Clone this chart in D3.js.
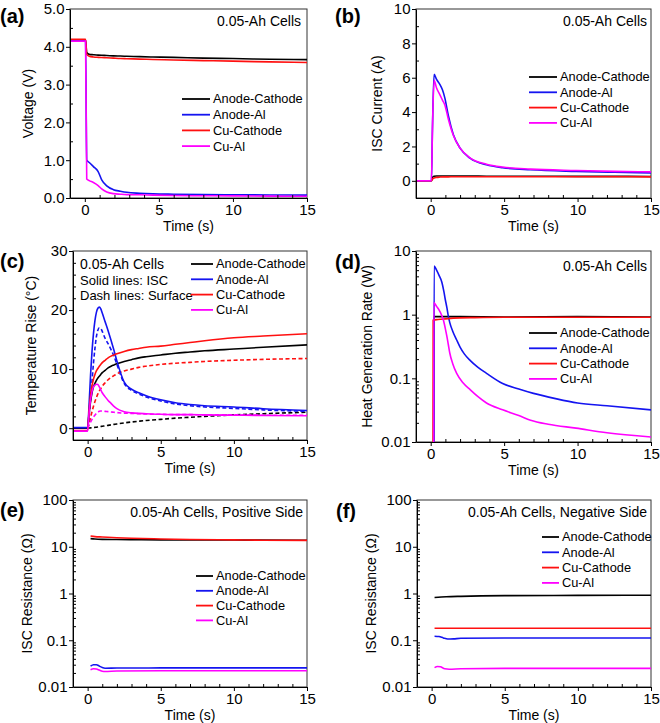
<!DOCTYPE html>
<html><head><meta charset="utf-8">
<script src="https://cdn.jsdelivr.net/npm/d3@7"></script>
<style>body{margin:0;background:#fff}svg{font-family:"Liberation Sans",Arial,sans-serif}</style>
</head><body><svg id="c" width="660" height="723"></svg>
<script>
// ---------- shared ----------
const seriesNames = ["Anode-Cathode", "Anode-Al", "Cu-Cathode", "Cu-Al"];
const seriesColors = ["#000000", "#1414f0", "#ff1010", "#ff00ff"];
const xTicks = [0, 5, 10, 15];
const xMinorTicks = [1, 2, 3, 4, 6, 7, 8, 9, 11, 12, 13, 14];

// ---------- (a) Voltage ----------
const tA = [-1, 0.05, 0.13, 0.3, 0.58, 0.9, 1.14, 1.48, 1.93, 2.4, 2.83, 3.7, 4.6, 6, 8, 10, 12.5, 15];
const voltAC = [4.18, 4.18, 3.85, 3.80, 3.79, 3.78, 3.775, 3.77, 3.76, 3.755, 3.75, 3.74, 3.73, 3.72, 3.70, 3.69, 3.67, 3.66];
const voltAAl = [4.15, 4.15, 1.0, 0.94, 0.83, 0.7, 0.48, 0.32, 0.22, 0.18, 0.15, 0.125, 0.11, 0.1, 0.09, 0.085, 0.08, 0.075];
const voltCuC = [4.2, 4.2, 3.8, 3.75, 3.73, 3.72, 3.715, 3.71, 3.70, 3.69, 3.685, 3.675, 3.665, 3.65, 3.635, 3.62, 3.6, 3.585];
const voltCuAl = [4.15, 4.15, 0.5, 0.46, 0.41, 0.33, 0.24, 0.16, 0.115, 0.1, 0.09, 0.085, 0.075, 0.065, 0.06, 0.055, 0.05, 0.045];
const yTicksA = [0, 1, 2, 3, 4, 5];
const yMinorA = [0.5, 1.5, 2.5, 3.5, 4.5];

// ---------- (b) ISC current ----------
const tB = [-1, 0.05, 0.12, 0.23, 0.4, 0.63, 0.8, 0.97, 1.2, 1.54, 2.0, 2.7, 3.8, 4.9, 6.8, 9.9, 12.5, 15];
const curAC = [0, 0, 0.2, 0.27, 0.28, 0.28, 0.28, 0.28, 0.28, 0.28, 0.28, 0.28, 0.27, 0.27, 0.27, 0.26, 0.26, 0.25];
const curAAl = [0, 0, 3, 6.2, 5.9, 5.6, 5.3, 4.8, 3.8, 2.7, 1.9, 1.3, 0.93, 0.76, 0.64, 0.55, 0.5, 0.46];
const curCuC = [0, 0, 0.1, 0.17, 0.2, 0.22, 0.23, 0.23, 0.23, 0.235, 0.235, 0.235, 0.235, 0.235, 0.235, 0.235, 0.235, 0.23];
const curCuAl = [0, 0, 3, 5.85, 5.4, 5.0, 4.7, 4.4, 3.6, 2.65, 1.9, 1.32, 0.97, 0.8, 0.68, 0.6, 0.55, 0.52];
const yTicksB = [0, 2, 4, 6, 8, 10];
const yMinorB = [-1, 1, 3, 5, 7, 9];

// ---------- (c) Temperature rise ----------
const tC = [-1, 0, 0.1, 0.2, 0.3, 0.4, 0.5, 0.6, 0.7, 0.8, 0.9, 1.0, 1.2, 1.4, 1.6, 1.8, 2.0, 2.5, 3, 3.5, 4, 5, 6, 7, 8, 10, 12, 15];
const iscAC = [0, 0, 2.5, 4.5, 6.0, 7.0, 7.6, 8.1, 8.5, 8.8, 9.1, 9.4, 9.8, 10.2, 10.5, 10.7, 10.9, 11.3, 11.6, 11.9, 12.1, 12.4, 12.7, 12.9, 13.1, 13.4, 13.7, 14.1];
const iscAAl = [0.1, 0.1, 4, 9, 13, 16, 18.2, 19.6, 20.3, 20.5, 20.2, 19.5, 18.0, 16.5, 14.9, 13.2, 11.4, 7.8, 6.6, 6.0, 5.5, 4.8, 4.3, 4.0, 3.8, 3.6, 3.3, 3.0];
const iscCuC = [-0.4, -0.4, 3, 5.5, 7.2, 8.3, 9.1, 9.7, 10.1, 10.5, 10.8, 11.1, 11.5, 11.9, 12.2, 12.4, 12.6, 13.0, 13.3, 13.5, 13.7, 13.9, 14.2, 14.5, 14.8, 15.3, 15.6, 16.0];
const iscCuAl = [-0.5, -0.5, 2.5, 4.8, 6.2, 7.0, 7.3, 7.45, 7.4, 7.0, 6.5, 6.0, 5.3, 4.7, 4.2, 3.7, 3.3, 2.8, 2.6, 2.5, 2.45, 2.35, 2.3, 2.3, 2.25, 2.2, 2.15, 2.1];
const tCs = [0, 0.1, 0.2, 0.3, 0.4, 0.5, 0.6, 0.7, 0.8, 0.9, 1.0, 1.2, 1.4, 1.6, 1.8, 2.0, 2.5, 3, 3.5, 4, 5, 6, 7, 8, 10, 12, 15];
const surfAC = [0, 0.02, 0.05, 0.08, 0.11, 0.14, 0.17, 0.21, 0.25, 0.29, 0.33, 0.4, 0.48, 0.56, 0.64, 0.72, 0.9, 1.05, 1.18, 1.3, 1.5, 1.7, 1.85, 2.0, 2.25, 2.45, 2.7];
const surfAAl = [0, 2, 5, 8, 11, 13.5, 15.5, 16.6, 17.0, 16.9, 16.4, 15.2, 14.3, 13.3, 12.2, 10.8, 7.6, 6.4, 5.8, 5.3, 4.6, 4.1, 3.8, 3.6, 3.35, 3.1, 2.85];
const surfCuC = [0, 0.8, 1.8, 2.8, 3.7, 4.5, 5.2, 5.8, 6.3, 6.7, 7.1, 7.7, 8.2, 8.6, 8.9, 9.2, 9.7, 10.0, 10.3, 10.5, 10.8, 11.0, 11.15, 11.3, 11.5, 11.65, 11.8];
const surfCuAl = [0, 0.5, 1.0, 1.5, 1.9, 2.2, 2.5, 2.7, 2.85, 2.9, 2.9, 2.85, 2.8, 2.75, 2.7, 2.65, 2.55, 2.5, 2.45, 2.4, 2.35, 2.3, 2.3, 2.25, 2.25, 2.2, 2.2];
const yTicksC = [0, 10, 20, 30];
const yMinorC = [-2, 2, 4, 6, 8, 12, 14, 16, 18, 22, 24, 26, 28];

// ---------- (d) Heat generation rate ----------
const tD_AC = [0.2, 0.21, 2, 5, 10, 15];
const heatAC = [0.003, 0.93, 0.93, 0.92, 0.93, 0.92];
const tD_AAl = [0.22, 0.23, 0.4, 0.6, 0.75, 0.9, 1.0, 1.1, 1.2, 1.3, 1.5, 1.77, 2.0, 2.3, 2.7, 3.2, 3.8, 4.9, 6, 7, 8.5, 10, 12, 15];
const heatAAl = [0.003, 5.8, 5.0, 4.0, 3.3, 2.3, 1.7, 1.3, 0.95, 0.75, 0.55, 0.4, 0.31, 0.24, 0.19, 0.15, 0.12, 0.083, 0.068, 0.058, 0.048, 0.041, 0.037, 0.032];
const tD_CuC = [0.16, 0.17, 0.5, 1, 2, 3, 5, 10, 15];
const heatCuC = [0.003, 0.82, 0.84, 0.86, 0.89, 0.9, 0.91, 0.91, 0.91];
const tD_CuAl = [0.2, 0.21, 0.4, 0.63, 0.86, 1.0, 1.1, 1.2, 1.3, 1.5, 1.77, 2.2, 2.7, 3.2, 3.8, 4.9, 6, 6.8, 8, 9.9, 12, 15];
const heatCuAl = [0.003, 1.55, 1.35, 1.12, 0.83, 0.6, 0.46, 0.34, 0.25, 0.17, 0.12, 0.085, 0.066, 0.052, 0.041, 0.032, 0.026, 0.022, 0.019, 0.0165, 0.014, 0.012];
const yTicksD = [0.01, 0.1, 1, 10];
const yTickLabelsD = ["0.01", "0.1", "1", "10"];

// ---------- (e) ISC resistance, positive side ----------
const tE_AC = [0.2, 0.5, 1, 2, 3, 5, 10, 15];
const resPosAC = [14.9, 14.6, 14.4, 14.3, 14.2, 14.0, 13.9, 13.8];
const tE_AAl = [0.2, 0.4, 0.6, 0.8, 1.0, 1.2, 2, 5, 10, 15];
const resPosAAl = [0.028, 0.030, 0.030, 0.028, 0.026, 0.0252, 0.0255, 0.0256, 0.0257, 0.0257];
const tE_CuC = [0.2, 0.5, 1, 2, 3, 5, 7, 10, 12, 15];
const resPosCuC = [17, 16.5, 16.2, 15.6, 15.2, 14.7, 14.3, 14.0, 13.8, 13.7];
const tE_CuAl = [0.2, 0.4, 0.6, 0.8, 1.0, 1.2, 2, 5, 10, 15];
const resPosCuAl = [0.0235, 0.0245, 0.0243, 0.023, 0.0218, 0.0215, 0.022, 0.0222, 0.0222, 0.0222];

// ---------- (f) ISC resistance, negative side ----------
const tF_AC = [0.2, 1, 2, 5, 10, 15];
const resNegAC = [0.82, 0.85, 0.87, 0.9, 0.91, 0.92];
const tF_AAl = [0.2, 0.5, 0.8, 1.1, 1.5, 2, 5, 10, 15];
const resNegAAl = [0.122, 0.12, 0.112, 0.106, 0.107, 0.11, 0.112, 0.112, 0.112];
const tF_CuC = [0.2, 1, 5, 10, 15];
const resNegCuC = [0.18, 0.18, 0.18, 0.18, 0.18];
const tF_CuAl = [0.2, 0.4, 0.6, 0.9, 1.2, 2, 5, 15];
const resNegCuAl = [0.026, 0.0275, 0.027, 0.0245, 0.024, 0.0245, 0.025, 0.025];
const yTicksEF = [0.01, 0.1, 1, 10, 100];
const yTickLabelsEF = ["0.01", "0.1", "1", "10", "100"];

// ---------- drawing ----------
const svg = d3.select("#c");
const logMinor = (lo, hi) => { const r = []; for (let e = lo; e < hi; e++) for (let k = 2; k <= 9; k++) r.push(k * Math.pow(10, e)); return r; };
const zip = (t, v) => t.map((d, i) => [d, v[i]]);
let clipId = 0;

function panel(c) {
  const g = svg.append("g");
  const x = d3.scaleLinear().domain([-1, 15]).range([c.L, c.R]);
  const y = (c.log ? d3.scaleLog() : d3.scaleLinear()).domain(c.yDomain).range([c.B, c.T]);
  const id = "clip" + (clipId++);
  g.append("clipPath").attr("id", id).append("rect").attr("x", c.L).attr("y", c.T).attr("width", c.R - c.L).attr("height", c.B - c.T);

  g.append("rect").attr("x", c.L).attr("y", c.T).attr("width", c.R - c.L).attr("height", c.B - c.T)
    .attr("fill", "none").attr("stroke", "#333").attr("stroke-width", 1);

  const line = d3.line().x(d => x(d[0])).y(d => y(d[1])).curve(d3.curveMonotoneX);
  const lg = g.append("g").attr("clip-path", `url(#${id})`);
  c.series.forEach(s => {
    lg.append("path").attr("d", line(zip(s.t, s.v))).attr("fill", "none")
      .attr("stroke", s.color).attr("stroke-width", 1.6)
      .attr("stroke-dasharray", s.dash ? "4,2.5" : null);
  });

  g.append("g").attr("transform", `translate(0,${c.B})`)
    .call(d3.axisBottom(x).tickValues(xTicks).tickSize(4).tickPadding(2).tickSizeOuter(0));
  g.append("g").attr("transform", `translate(0,${c.B})`)
    .call(d3.axisBottom(x).tickValues(xMinorTicks).tickSize(-3).tickFormat("").tickSizeOuter(0))
    .select(".domain").remove();
  const yAxis = d3.axisLeft(y).tickValues(c.yTicks).tickSize(4).tickPadding(1.5).tickSizeOuter(0)
    .tickFormat((d, i) => c.yLabels[i]);
  g.append("g").attr("transform", `translate(${c.L},0)`).call(yAxis);
  g.append("g").attr("transform", `translate(${c.L},0)`)
    .call(d3.axisLeft(y).tickValues(c.yMinor).tickSize(-3).tickFormat("").tickSizeOuter(0))
    .select(".domain").remove();
  g.selectAll(".tick text").attr("font-size", 15).attr("fill", "#000").style("font-family", "'Liberation Sans',Arial,sans-serif");
  g.selectAll(".domain, .tick line").attr("stroke", "#000");

  g.append("text").attr("x", (c.L + c.R) / 2).attr("y", c.B + 33).attr("text-anchor", "middle")
    .attr("font-size", 14).text("Time (s)");
  g.append("text").attr("transform", `translate(${c.yTitleX},${(c.T + c.B) / 2}) rotate(-90)`)
    .attr("text-anchor", "middle").attr("font-size", 14).text(c.yTitle);

  g.append("text").attr("x", c.labelX).attr("y", c.labelY).attr("font-size", 20).attr("font-weight", "bold").text(c.label);

  c.notes.forEach(n => {
    g.append("text").attr("x", n.x).attr("y", n.y).attr("text-anchor", n.anchor).attr("font-size", n.size).text(n.text);
  });

  seriesNames.forEach((name, i) => {
    const yy = c.legY + i * c.legDy;
    g.append("line").attr("x1", c.legX).attr("x2", c.legX + c.legLen).attr("y1", yy).attr("y2", yy)
      .attr("stroke", seriesColors[i]).attr("stroke-width", 1.8);
    g.append("text").attr("x", c.legX + c.legLen + 3).attr("y", yy).attr("dy", "0.35em")
      .attr("font-size", 12.8).text(name);
  });
}

const S = (t, v, i, dash) => ({ t, v, color: seriesColors[i], dash });

panel({
  L: 70, R: 307, T: 9, B: 198, yDomain: [0, 5], yTicks: yTicksA, yLabels: yTicksA.map(d => d.toFixed(1)), yMinor: yMinorA,
  yTitle: "Voltage (V)", yTitleX: 33, label: "(a)", labelX: 0, labelY: 23,
  series: [S(tA, voltAC, 0), S(tA, voltAAl, 1), S(tA, voltCuC, 2), S(tA, voltCuAl, 3)],
  notes: [{ x: 301, y: 26, anchor: "end", size: 14, text: "0.05-Ah Cells" }],
  legX: 182, legY: 99, legDy: 15.7, legLen: 28
});
panel({
  L: 416, R: 651, T: 9, B: 198, yDomain: [-1, 10], yTicks: yTicksB, yLabels: yTicksB.map(String), yMinor: yMinorB,
  yTitle: "ISC Current (A)", yTitleX: 382, label: "(b)", labelX: 335, labelY: 23,
  series: [S(tB, curAC, 0), S(tB, curAAl, 1), S(tB, curCuC, 2), S(tB, curCuAl, 3)],
  notes: [{ x: 647, y: 26, anchor: "end", size: 14, text: "0.05-Ah Cells" }],
  legX: 529, legY: 77, legDy: 15.3, legLen: 28
});
panel({
  L: 73, R: 307, T: 251, B: 440, yDomain: [-2, 30], yTicks: yTicksC, yLabels: yTicksC.map(String), yMinor: yMinorC,
  yTitle: "Temperature Rise (°C)", yTitleX: 36, label: "(c)", labelX: 0, labelY: 268,
  series: [S(tCs, surfAC, 0, true), S(tCs, surfAAl, 1, true), S(tCs, surfCuC, 2, true), S(tCs, surfCuAl, 3, true),
           S(tC, iscAC, 0), S(tC, iscAAl, 1), S(tC, iscCuC, 2), S(tC, iscCuAl, 3)],
  notes: [{ x: 80, y: 269, anchor: "start", size: 14, text: "0.05-Ah Cells" },
          { x: 80, y: 285, anchor: "start", size: 13, text: "Solid lines: ISC" },
          { x: 80, y: 300, anchor: "start", size: 13, text: "Dash lines: Surface" }],
  legX: 191, legY: 264, legDy: 15.3, legLen: 22
});
panel({
  L: 416, R: 651, T: 251, B: 442, log: true, yDomain: [0.01, 10], yTicks: yTicksD, yLabels: yTickLabelsD, yMinor: logMinor(-2, 1),
  yTitle: "Heat Generation Rate (W)", yTitleX: 372, label: "(d)", labelX: 335, labelY: 269,
  series: [S(tD_AC, heatAC, 0), S(tD_AAl, heatAAl, 1), S(tD_CuC, heatCuC, 2), S(tD_CuAl, heatCuAl, 3)],
  notes: [{ x: 647, y: 271, anchor: "end", size: 14, text: "0.05-Ah Cells" }],
  legX: 529, legY: 333, legDy: 15.3, legLen: 28
});
panel({
  L: 73, R: 307, T: 500, B: 687, log: true, yDomain: [0.01, 100], yTicks: yTicksEF, yLabels: yTickLabelsEF, yMinor: logMinor(-2, 2),
  yTitle: "ISC Resistance (Ω)", yTitleX: 32, label: "(e)", labelX: 0, labelY: 517,
  series: [S(tE_AC, resPosAC, 0), S(tE_AAl, resPosAAl, 1), S(tE_CuC, resPosCuC, 2), S(tE_CuAl, resPosCuAl, 3)],
  notes: [{ x: 303, y: 517, anchor: "end", size: 14, text: "0.05-Ah Cells, Positive Side" }],
  legX: 196, legY: 576, legDy: 14.8, legLen: 17
});
panel({
  L: 417, R: 651, T: 500, B: 687, log: true, yDomain: [0.01, 100], yTicks: yTicksEF, yLabels: yTickLabelsEF, yMinor: logMinor(-2, 2),
  yTitle: "ISC Resistance (Ω)", yTitleX: 376, label: "(f)", labelX: 336, labelY: 518,
  series: [S(tF_AC, resNegAC, 0), S(tF_AAl, resNegAAl, 1), S(tF_CuC, resNegCuC, 2), S(tF_CuAl, resNegCuAl, 3)],
  notes: [{ x: 647, y: 517, anchor: "end", size: 14, text: "0.05-Ah Cells, Negative Side" }],
  legX: 542, legY: 537, legDy: 15.3, legLen: 17
});
</script></body></html>
